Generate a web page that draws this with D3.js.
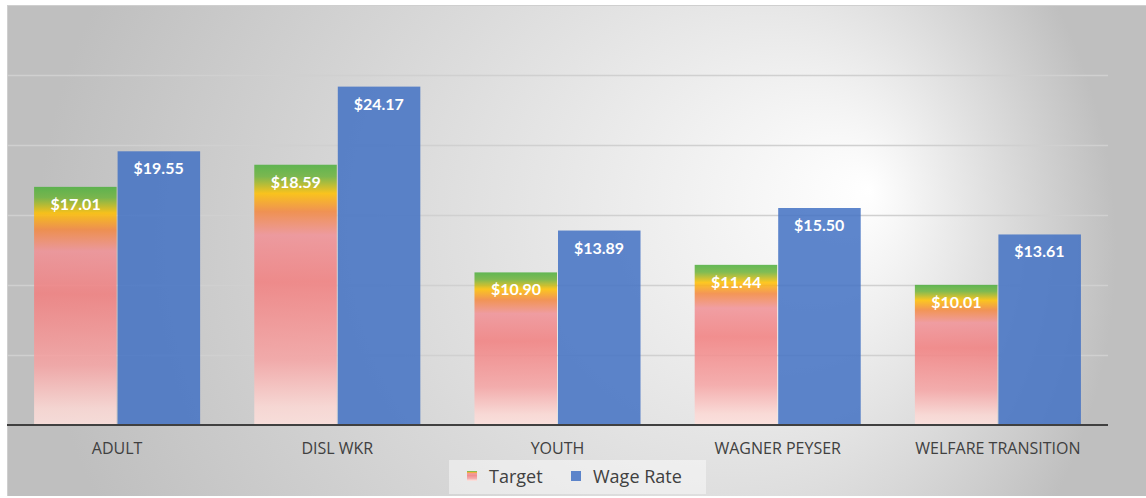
<!DOCTYPE html>
<html><head><meta charset="utf-8">
<script src="https://cdn.jsdelivr.net/npm/d3@7"></script>
<style>html,body{margin:0;padding:0;background:#fff;}svg{display:block;}</style>
</head><body>
<svg id="chart" width="1146" height="498"></svg>
<script>
const categories = ["ADULT", "DISL WKR", "YOUTH", "WAGNER PEYSER", "WELFARE TRANSITION"];
const seriesNames = ["Target", "Wage Rate"];
const targetValues = [17.01, 18.59, 10.90, 11.44, 10.01];
const wageValues = [19.55, 24.17, 13.89, 15.50, 13.61];
const yTicks = [0, 5, 10, 15, 20, 25, 30];

const svg = d3.select("#chart");
const box = {x: 7, y: 5, w: 1139, h: 491};
const plot = {left: 7, right: 1108, top: 5, bottom: 425};

const defs = svg.append("defs");
const bg = defs.append("radialGradient").attr("id", "bg")
  .attr("gradientUnits", "userSpaceOnUse")
  .attr("cx", 576).attr("cy", 250).attr("r", 540)
  .attr("fx", 870).attr("fy", 190);
bg.append("stop").attr("offset", 0).attr("stop-color", "#ffffff");
bg.append("stop").attr("offset", 1).attr("stop-color", "#bfbfbf");

const tg = defs.append("linearGradient").attr("id", "tgrad")
  .attr("x1", 0).attr("y1", 0).attr("x2", 0).attr("y2", 1);
[[0, "#4caf3c"], [0.045, "#6db33a"], [0.11, "#ffc000"], [0.18, "#f4873e"],
 [0.27, "#f19196"], [0.45, "#f27f7f"], [0.75, "#f6a4a4"], [0.93, "#fcd8d4"], [1, "#fde0dc"]]
 .forEach(([o, c]) => tg.append("stop").attr("offset", o).attr("stop-color", c));

// background
svg.append("rect").attr("x", box.x).attr("y", box.y).attr("width", box.w).attr("height", box.h)
  .attr("fill", "url(#bg)");
svg.append("line").attr("x1", box.x).attr("x2", box.x + box.w).attr("y1", box.y + 0.5).attr("y2", box.y + 0.5)
  .attr("stroke", "#cfcfcf").attr("stroke-width", 1);
svg.append("line").attr("x1", box.x + 0.5).attr("x2", box.x + 0.5).attr("y1", box.y).attr("y2", box.y + box.h)
  .attr("stroke", "#cfcfcf").attr("stroke-width", 1);

const y = d3.scaleLinear().domain([0, 30]).range([plot.bottom, plot.top]);
const x0 = d3.scaleBand().domain(categories).range([plot.left, plot.right])
  .paddingInner(0.246).paddingOuter(0.123);
const x1 = d3.scaleBand().domain(seriesNames).range([0, x0.bandwidth()]);

// gridlines
svg.append("g").selectAll("line").data(yTicks.filter(t => t > 0 && t < 30)).join("line")
  .attr("x1", plot.left).attr("x2", plot.right)
  .attr("y1", d => Math.round(y(d)) + 0.5).attr("y2", d => Math.round(y(d)) + 0.5)
  .attr("stroke", "#d0d0d0").attr("stroke-width", 1.3);

const data = categories.map((c, i) => ({cat: c, vals: [
  {s: "Target", v: targetValues[i]}, {s: "Wage Rate", v: wageValues[i]}]}));

const groups = svg.append("g").selectAll("g").data(data).join("g")
  .attr("transform", d => `translate(${x0(d.cat)},0)`);
groups.selectAll("rect").data(d => d.vals).join("rect")
  .attr("x", d => x1(d.s) + (d.s === "Wage Rate" ? 0.5 : 0))
  .attr("width", d => x1.bandwidth() - 0.5)
  .attr("y", d => y(d.v))
  .attr("height", d => y(0) - y(d.v))
  .attr("fill", d => d.s === "Target" ? "url(#tgrad)" : "#4472c4")
  .attr("fill-opacity", 0.86);
groups.selectAll("text").data(d => d.vals).join("text")
  .attr("x", d => x1(d.s) + x1.bandwidth() / 2)
  .attr("y", d => y(d.v) + 23)
  .attr("text-anchor", "middle")
  .attr("font-family", "Lato, 'Open Sans', sans-serif")
  .attr("font-weight", "bold").attr("font-size", 16)
  .attr("fill", "#ffffff")
  .text(d => "$" + d.v.toFixed(2));

// x axis
const xAxis = svg.append("g").attr("transform", `translate(0,${plot.bottom})`)
  .call(d3.axisBottom(x0).tickSize(0).tickPadding(18));
xAxis.select(".domain").attr("stroke", "#404040").attr("stroke-width", 2)
  .attr("d", `M${plot.left},0H${plot.right}`);
xAxis.selectAll("text").attr("font-family", "'Open Sans', sans-serif").attr("font-size", 16)
  .attr("fill", "#404040");

// legend
const lg = svg.append("g");
lg.append("rect").attr("x", 449).attr("y", 460).attr("width", 257).attr("height", 34)
  .attr("fill", "#ffffff").attr("fill-opacity", 0.45);
const legItems = [{s: "Target", x: 467, fill: "url(#tgrad)"}, {s: "Wage Rate", x: 571, fill: "#4472c4"}];
legItems.forEach(it => {
  lg.append("rect").attr("x", it.x).attr("y", 471).attr("width", 10).attr("height", 10)
    .attr("fill", it.fill).attr("fill-opacity", 0.86);
  lg.append("text").attr("x", it.x + 22).attr("y", 483)
    .attr("font-family", "'Open Sans', sans-serif").attr("font-size", 18)
    .attr("fill", "#404040").text(it.s);
});
</script>
</body></html>
